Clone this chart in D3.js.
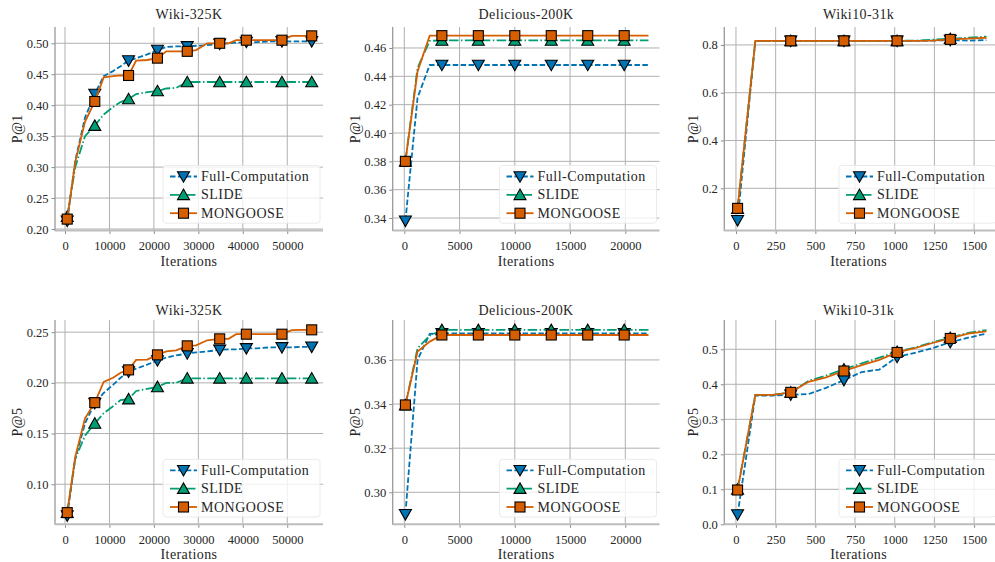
<!DOCTYPE html>
<html>
<head>
<meta charset="utf-8">
<script src="https://cdn.jsdelivr.net/npm/d3@7"></script>
<style>
  html, body { margin: 0; padding: 0; background: #fff; }
  svg { display: block; }
  text { font-family: "Liberation Serif", "Times New Roman", serif; fill: #262626; }
</style>
</head>
<body>
<svg id="chart" width="995" height="562"></svg>
<script>
// ---------------- DATA ----------------
const seriesNames = ["Full-Computation", "SLIDE", "MONGOOSE"];

// Wiki-325K
const iterWiki325 = [500, 2300, 4500, 6700, 8700, 10800, 12500, 14300, 16000, 18500, 20800, 22800, 25000, 27500, 29500, 32000, 34800, 36800, 38500, 40800, 43000, 46000, 48800, 51000, 53000, 55500];
const markWiki325 = [0, 3, 7, 10, 13, 16, 19, 22, 25];
const wiki325P1Full  = [0.213, 0.310, 0.380, 0.418, 0.447, 0.455, 0.463, 0.472, 0.476, 0.482, 0.489, 0.494, 0.495, 0.495, 0.496, 0.497, 0.499, 0.500, 0.501, 0.502, 0.502, 0.503, 0.503, 0.503, 0.503, 0.503];
const wiki325P1Slide = [0.220, 0.300, 0.350, 0.367, 0.385, 0.397, 0.405, 0.410, 0.418, 0.421, 0.423, 0.427, 0.428, 0.4375, 0.4375, 0.4375, 0.4375, 0.4375, 0.4375, 0.4375, 0.4375, 0.4375, 0.4375, 0.4375, 0.4375, 0.4375];
const wiki325P1Mong  = [0.216, 0.308, 0.373, 0.406, 0.445, 0.447, 0.448, 0.448, 0.472, 0.473, 0.476, 0.487, 0.487, 0.487, 0.489, 0.500, 0.500, 0.500, 0.505, 0.505, 0.505, 0.505, 0.505, 0.512, 0.512, 0.512];
const wiki325P5Full  = [0.069, 0.125, 0.160, 0.180, 0.190, 0.198, 0.205, 0.211, 0.214, 0.218, 0.222, 0.225, 0.227, 0.229, 0.230, 0.231, 0.2325, 0.233, 0.233, 0.234, 0.234, 0.235, 0.235, 0.235, 0.2355, 0.2355];
const wiki325P5Slide = [0.072, 0.125, 0.148, 0.160, 0.170, 0.177, 0.183, 0.184, 0.192, 0.194, 0.196, 0.200, 0.200, 0.2045, 0.2045, 0.2045, 0.2045, 0.2045, 0.2045, 0.2045, 0.2045, 0.2045, 0.2045, 0.2045, 0.2045, 0.2045];
const wiki325P5Mong  = [0.072, 0.127, 0.165, 0.1805, 0.201, 0.205, 0.210, 0.2128, 0.2226, 0.223, 0.2276, 0.231, 0.232, 0.2365, 0.237, 0.242, 0.2434, 0.2434, 0.248, 0.248, 0.248, 0.248, 0.248, 0.252, 0.2523, 0.2523];

// Delicious-200K
const iterDelicious = [100, 1200, 2300, 3400, 4500, 5600, 6700, 7800, 8900, 10000, 11100, 12200, 13300, 14400, 15500, 16600, 17700, 18800, 19900, 21000, 22100];
const markDelicious = [0, 3, 6, 9, 12, 15, 18];
const delP1Full  = [0.338, 0.425, 0.448, 0.448, 0.448, 0.448, 0.448, 0.448, 0.448, 0.448, 0.448, 0.448, 0.448, 0.448, 0.448, 0.448, 0.448, 0.448, 0.448, 0.448, 0.448];
const delP1Slide = [0.380, 0.446, 0.465, 0.4653, 0.4653, 0.4653, 0.4653, 0.4653, 0.4653, 0.4653, 0.4653, 0.4653, 0.4653, 0.4653, 0.4653, 0.4653, 0.4653, 0.4653, 0.4653, 0.4653, 0.4653];
const delP1Mong  = [0.380, 0.4435, 0.4687, 0.4687, 0.4687, 0.4687, 0.4687, 0.4687, 0.4687, 0.4687, 0.4687, 0.4687, 0.4687, 0.4687, 0.4687, 0.4687, 0.4687, 0.4687, 0.4687, 0.4687, 0.4687];
const delP5Full  = [0.290, 0.360, 0.3718, 0.372, 0.372, 0.372, 0.372, 0.372, 0.372, 0.372, 0.372, 0.372, 0.372, 0.372, 0.372, 0.372, 0.372, 0.372, 0.372, 0.372, 0.372];
const delP5Slide = [0.3395, 0.3653, 0.371, 0.3736, 0.3736, 0.3736, 0.3736, 0.3736, 0.3736, 0.3736, 0.3736, 0.3736, 0.3736, 0.3736, 0.3736, 0.3736, 0.3736, 0.3736, 0.3736, 0.3736, 0.3736];
const delP5Mong  = [0.3396, 0.3638, 0.3683, 0.3713, 0.3713, 0.3713, 0.3713, 0.3713, 0.3713, 0.3713, 0.3713, 0.3713, 0.3713, 0.3713, 0.3713, 0.3713, 0.3713, 0.3713, 0.3713, 0.3713, 0.3713];

// Wiki10-31k
const iterWiki10 = [10, 122, 233, 345, 457, 568, 680, 792, 903, 1015, 1127, 1238, 1350, 1462, 1578];
const markWiki10 = [0, 3, 6, 9, 12];
const wiki10P1Full  = [0.066, 0.817, 0.817, 0.817, 0.817, 0.817, 0.817, 0.817, 0.817, 0.817, 0.817, 0.818, 0.820, 0.818, 0.820];
const wiki10P1Slide = [0.115, 0.817, 0.817, 0.817, 0.817, 0.817, 0.817, 0.817, 0.817, 0.817, 0.818, 0.822, 0.826, 0.830, 0.835];
const wiki10P1Mong  = [0.116, 0.817, 0.817, 0.817, 0.817, 0.817, 0.817, 0.817, 0.817, 0.817, 0.817, 0.818, 0.823, 0.826, 0.830];
const wiki10P5Full  = [0.028, 0.368, 0.368, 0.370, 0.372, 0.390, 0.412, 0.435, 0.442, 0.478, 0.490, 0.503, 0.520, 0.533, 0.545];
const wiki10P5Slide = [0.100, 0.370, 0.370, 0.377, 0.410, 0.425, 0.443, 0.460, 0.476, 0.493, 0.505, 0.520, 0.533, 0.547, 0.555];
const wiki10P5Mong  = [0.098, 0.370, 0.370, 0.377, 0.407, 0.420, 0.438, 0.455, 0.470, 0.491, 0.503, 0.518, 0.531, 0.545, 0.551];

// Tick labels
const xTicksWiki325 = [0, 10000, 20000, 30000, 40000, 50000];
const xTicksDelicious = [0, 5000, 10000, 15000, 20000];
const xTicksWiki10 = [0, 250, 500, 750, 1000, 1250, 1500];
const yTicksWiki325P1 = [0.20, 0.25, 0.30, 0.35, 0.40, 0.45, 0.50];
const yTicksDelP1 = [0.34, 0.36, 0.38, 0.40, 0.42, 0.44, 0.46];
const yTicksWiki10P1 = [0.2, 0.4, 0.6, 0.8];
const yTicksWiki325P5 = [0.10, 0.15, 0.20, 0.25];
const yTicksDelP5 = [0.30, 0.32, 0.34, 0.36];
const yTicksWiki10P5 = [0.0, 0.1, 0.2, 0.3, 0.4, 0.5];

// ---------------- LAYOUT / STYLE ----------------
const colors = ["#0173b2", "#029e73", "#d55e00"];
const dashes = ["5.5,2.4", "9.6,2.4,1.5,2.4", null];
const markerKinds = ["down", "up", "square"];

const cols = [
  {left: 55, right: 323, ylabX: 17},
  {left: 392.7, right: 659.5, ylabX: 355},
  {left: 724.3, right: 999, ylabX: 693.3}
];
const rows = [
  {top: 27, bottom: 230.5, titleY: 19},
  {top: 320, bottom: 524.3, titleY: 314.5}
];

const panels = [
  {row: 0, col: 0, title: "Wiki-325K", ylabel: "P@1", x: iterWiki325, marks: markWiki325,
   ys: [wiki325P1Full, wiki325P1Slide, wiki325P1Mong], xd: [-2250, 58040], yd: [0.1976, 0.5263],
   xt: xTicksWiki325, yt: yTicksWiki325P1, yfmt: ".2f"},
  {row: 0, col: 1, title: "Delicious-200K", ylabel: "P@1", x: iterDelicious, marks: markDelicious,
   ys: [delP1Full, delP1Slide, delP1Mong], xd: [-1050, 23095], yd: [0.3312, 0.4748],
   xt: xTicksDelicious, yt: yTicksDelP1, yfmt: ".2f"},
  {row: 0, col: 2, title: "Wiki10-31k", ylabel: "P@1", x: iterWiki10, marks: markWiki10,
   ys: [wiki10P1Full, wiki10P1Slide, wiki10P1Mong], xd: [-73.6, 1657], yd: [0.0234, 0.875],
   xt: xTicksWiki10, yt: yTicksWiki10P1, yfmt: ".1f"},
  {row: 1, col: 0, title: "Wiki-325K", ylabel: "P@5", x: iterWiki325, marks: markWiki325,
   ys: [wiki325P5Full, wiki325P5Slide, wiki325P5Mong], xd: [-2250, 58040], yd: [0.0605, 0.262],
   xt: xTicksWiki325, yt: yTicksWiki325P5, yfmt: ".2f"},
  {row: 1, col: 1, title: "Delicious-200K", ylabel: "P@5", x: iterDelicious, marks: markDelicious,
   ys: [delP5Full, delP5Slide, delP5Mong], xd: [-1050, 23095], yd: [0.2855, 0.3781],
   xt: xTicksDelicious, yt: yTicksDelP5, yfmt: ".2f"},
  {row: 1, col: 2, title: "Wiki10-31k", ylabel: "P@5", x: iterWiki10, marks: markWiki10,
   ys: [wiki10P5Full, wiki10P5Slide, wiki10P5Mong], xd: [-73.6, 1657], yd: [0, 0.5837],
   xt: xTicksWiki10, yt: yTicksWiki10P5, yfmt: ".1f"}
];

const svg = d3.select("#chart");

function drawMarker(g, kind, cx, cy, color) {
  if (kind === "square") {
    g.append("rect").attr("x", cx - 5).attr("y", cy - 5).attr("width", 10).attr("height", 10)
      .attr("fill", color).attr("stroke", "#000").attr("stroke-width", 1.1);
  } else {
    const s = 6;
    const pts = kind === "down"
      ? [[cx - s, cy - s * 0.8], [cx + s, cy - s * 0.8], [cx, cy + s * 0.95]]
      : [[cx - s, cy + s * 0.8], [cx + s, cy + s * 0.8], [cx, cy - s * 0.95]];
    g.append("path").attr("d", "M" + pts.map(p => p.join(",")).join("L") + "Z")
      .attr("fill", color).attr("stroke", "#000").attr("stroke-width", 1.1).attr("stroke-linejoin", "miter");
  }
}

panels.forEach((p, pi) => {
  const c = cols[p.col], r = rows[p.row];
  const x = d3.scaleLinear().domain(p.xd).range([c.left, c.right]);
  const y = d3.scaleLinear().domain(p.yd).range([r.bottom, r.top]);
  const g = svg.append("g");

  const clipId = "clip" + pi;
  svg.append("clipPath").attr("id", clipId).append("rect")
    .attr("x", c.left).attr("y", r.top - 8).attr("width", c.right - c.left).attr("height", r.bottom - r.top + 8);

  // grid
  const grid = g.append("g").attr("stroke", "#b0b0b0").attr("stroke-width", 1);
  p.xt.forEach(t => grid.append("line").attr("x1", x(t)).attr("x2", x(t)).attr("y1", r.top).attr("y2", r.bottom));
  p.yt.forEach(t => grid.append("line").attr("x1", c.left).attr("x2", c.right).attr("y1", y(t)).attr("y2", y(t)));

  // axes via d3
  const xAxis = d3.axisBottom(x).tickValues(p.xt).tickFormat(d3.format("d")).tickSize(3.5).tickPadding(4);
  const yAxis = d3.axisLeft(y).tickValues(p.yt).tickFormat(d3.format(p.yfmt)).tickSize(3.5).tickPadding(3);
  const gx = g.append("g").attr("transform", `translate(0,${r.bottom})`).call(xAxis);
  const gy = g.append("g").attr("transform", `translate(${c.left},0)`).call(yAxis);
  [gx, gy].forEach(a => {
    a.select(".domain").remove();
    a.selectAll(".tick line").attr("stroke", "#8c8c8c").attr("stroke-width", 1);
    a.selectAll(".tick text").style("font-family", '"Liberation Serif", serif').style("font-size", "12.5px").attr("fill", "#262626");
  });
  gx.selectAll(".tick text").attr("dy", "0.95em");
  // spines
  g.append("line").attr("x1", c.left).attr("x2", c.left).attr("y1", r.top).attr("y2", r.bottom + 0.5)
    .attr("stroke", "#9a9a9a").attr("stroke-width", 1.3);
  g.append("line").attr("x1", c.left).attr("x2", c.right).attr("y1", r.bottom).attr("y2", r.bottom)
    .attr("stroke", "#bdbdbd").attr("stroke-width", 2);

  // lines + markers
  const plot = g.append("g").attr("clip-path", `url(#${clipId})`);
  p.ys.forEach((vals, si) => {
    const line = d3.line().x((d, i) => x(p.x[i])).y(d => y(d));
    const path = plot.append("path").datum(vals).attr("d", line)
      .attr("fill", "none").attr("stroke", colors[si]).attr("stroke-width", 1.8);
    if (dashes[si]) path.attr("stroke-dasharray", dashes[si]);
    p.marks.forEach(mi => drawMarker(plot, markerKinds[si], x(p.x[mi]), y(vals[mi]), colors[si]));
  });

  // titles / labels
  g.append("text").attr("x", (c.left + c.right) / 2 + (p.col === 2 ? -3 : 0)).attr("y", r.titleY)
    .attr("text-anchor", "middle").style("font-size", "14px").style("letter-spacing", "0.4px").text(p.title);
  g.append("text").attr("x", (c.left + c.right) / 2 + (p.col === 2 ? -3 : 0)).attr("y", r.bottom + 35)
    .attr("text-anchor", "middle").style("font-size", "14px").style("letter-spacing", "0.4px").text("Iterations");
  g.append("text").attr("transform", `translate(${c.ylabX},${(r.top + r.bottom) / 2}) rotate(-90)`)
    .attr("text-anchor", "middle").attr("dominant-baseline", "central").style("font-size", "14px").style("letter-spacing", "0.4px").text(p.ylabel);

  // legend
  const lg = g.append("g");
  const rowYs = [r.bottom - 54, r.bottom - 35.7, r.bottom - 17.3];
  const right = c.right;
  lg.append("rect").attr("x", right - 160).attr("y", rowYs[0] - 11).attr("width", 157).attr("height", rowYs[2] - rowYs[0] + 21)
    .attr("rx", 3).attr("fill", "#fff").attr("fill-opacity", 0.8).attr("stroke", "#e6e6e6").attr("stroke-width", 0.8);
  seriesNames.forEach((name, si) => {
    const yy = rowYs[si];
    const ln = lg.append("line").attr("x1", right - 153).attr("x2", right - 126).attr("y1", yy).attr("y2", yy)
      .attr("stroke", colors[si]).attr("stroke-width", 1.8);
    if (dashes[si]) ln.attr("stroke-dasharray", si === 0 ? "5.5,2.4" : "9.6,2.4,1.5,2.4");
    drawMarker(lg, markerKinds[si], right - 139.5, yy, colors[si]);
    lg.append("text").attr("x", right - 122).attr("y", yy).attr("dominant-baseline", "central")
      .style("font-size", "14px").style("letter-spacing", "0.5px").text(name);
  });
});
</script>
</body>
</html>
